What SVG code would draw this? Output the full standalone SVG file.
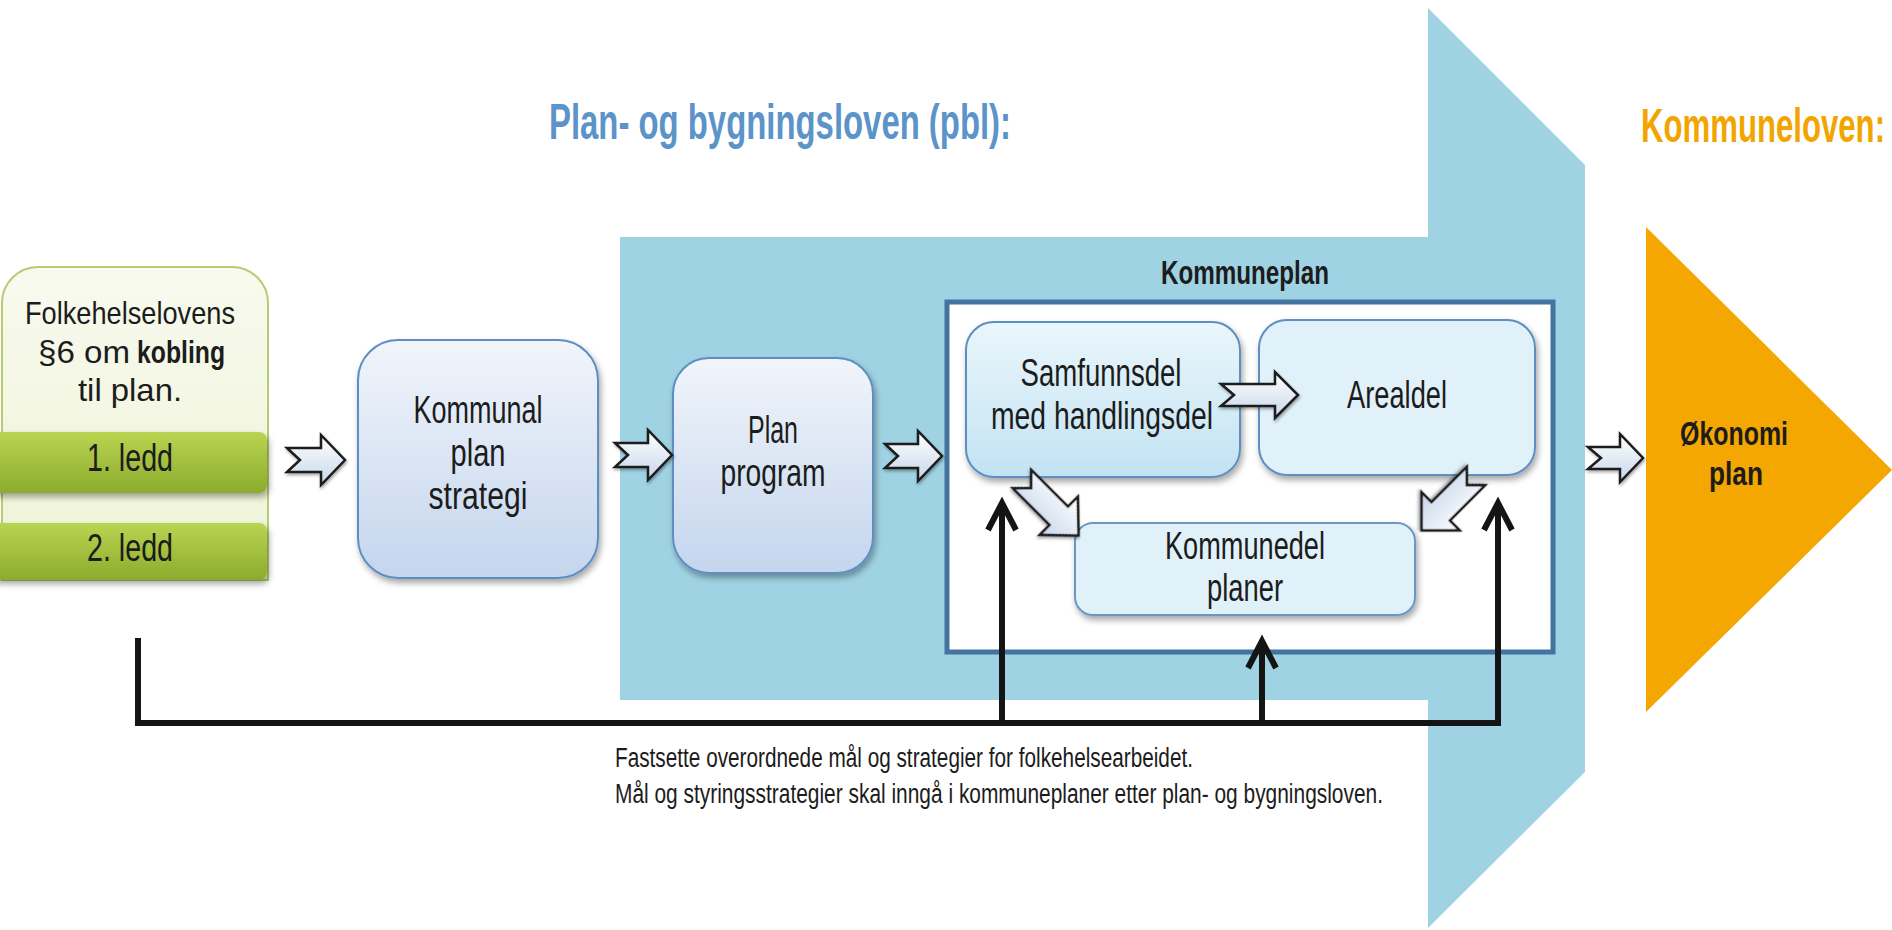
<svg xmlns="http://www.w3.org/2000/svg" width="1892" height="930" viewBox="0 0 1892 930">
<style>
.t{font-family:"Liberation Sans",Arial,sans-serif;fill:#1c1c1c;text-anchor:middle}
.s{text-anchor:start}
.n{font-size:38px}
.f{font-size:32px}
.b{font-weight:bold}
.blk{fill:none;stroke:#141414;stroke-width:6;stroke-linejoin:miter}
.ba{fill:url(#ga);stroke:#1a1a1a;stroke-width:2.5;stroke-linejoin:miter;filter:url(#sh2)}
</style>
<defs>
<linearGradient id="gb" x1="0" y1="0" x2="0" y2="1"><stop offset="0" stop-color="#f1f5fb"/><stop offset="1" stop-color="#c4d5ed"/></linearGradient>
<linearGradient id="gc" x1="0" y1="0" x2="0" y2="1"><stop offset="0" stop-color="#eaf6fb"/><stop offset="1" stop-color="#c2e3f3"/></linearGradient>
<linearGradient id="gcream" x1="0" y1="0" x2="0" y2="1"><stop offset="0" stop-color="#f8faee"/><stop offset="1" stop-color="#edf3d6"/></linearGradient>
<linearGradient id="gg" x1="0" y1="0" x2="0" y2="1"><stop offset="0" stop-color="#b9d451"/><stop offset="1" stop-color="#8cab2c"/></linearGradient>
<linearGradient id="ga" x1="0" y1="0" x2="0" y2="1"><stop offset="0" stop-color="#ffffff"/><stop offset="1" stop-color="#c7d7ea"/></linearGradient>
<filter id="sh" x="-10%" y="-10%" width="130%" height="130%"><feDropShadow dx="2" dy="4" stdDeviation="3" flood-color="#000" flood-opacity="0.35"/></filter>
<filter id="sh2" x="-20%" y="-20%" width="150%" height="150%"><feDropShadow dx="1" dy="2" stdDeviation="1.5" flood-color="#000" flood-opacity="0.35"/></filter>
</defs>

<!-- background shapes -->
<path d="M620,237 H1428 V8 L1585,165 V772 L1428,928 V700 H620 Z" fill="#9fd3e4"/>
<polygon points="1646,227 1892,470 1646,712" fill="#f4a700"/>

<text class="t b" x="780" y="139" font-size="50" style="fill:#5b94c8" textLength="462" lengthAdjust="spacingAndGlyphs">Plan- og bygningsloven (pbl):</text>
<text class="t b s" transform="translate(1641,142) scale(0.649,1)" x="0" y="0" font-size="48" style="fill:#f2a500" textLength="376" lengthAdjust="spacingAndGlyphs">Kommuneloven:</text>

<!-- Kommuneplan frame -->
<g id="kommuneplan">
<rect x="947" y="302" width="606" height="350" fill="#ffffff" stroke="#44739f" stroke-width="5"/>
<text class="t b" x="1245" y="284" font-size="33" textLength="168" lengthAdjust="spacingAndGlyphs">Kommuneplan</text>
</g>

<g id="folkehelse">
<path d="M2,580 V303 A36,36 0 0 1 38,267 H232 A36,36 0 0 1 268,303 V580 Z" fill="url(#gcream)" stroke="#b5cd72" stroke-width="2"/>
<rect x="-10" y="432" width="277" height="61" rx="8" fill="url(#gg)" filter="url(#sh)"/>
<rect x="-10" y="523" width="277" height="57" rx="8" fill="url(#gg)" filter="url(#sh)"/>
<text class="t f" x="130" y="324" textLength="210" lengthAdjust="spacingAndGlyphs">Folkehelselovens</text>
<text class="t f s" x="38" y="363" textLength="92" lengthAdjust="spacingAndGlyphs">§6 om</text>
<text class="t f s b" x="137" y="363" textLength="88" lengthAdjust="spacingAndGlyphs">kobling</text>
<text class="t f" x="130" y="401" textLength="104" lengthAdjust="spacingAndGlyphs">til plan.</text>
<text class="t n" x="130" y="471" textLength="86" lengthAdjust="spacingAndGlyphs">1. ledd</text>
<text class="t n" x="130" y="561" textLength="86" lengthAdjust="spacingAndGlyphs">2. ledd</text>
</g>

<g id="kommunalplanstrategi">
<rect x="358" y="340" width="240" height="238" rx="40" fill="url(#gb)" stroke="#5f8fc2" stroke-width="2" filter="url(#sh)"/>
<text class="t n" x="478" y="423" textLength="129" lengthAdjust="spacingAndGlyphs">Kommunal</text>
<text class="t n" x="478" y="466" textLength="55" lengthAdjust="spacingAndGlyphs">plan</text>
<text class="t n" x="478" y="509" textLength="99" lengthAdjust="spacingAndGlyphs">strategi</text>
</g>

<g id="planprogram">
<rect x="673" y="358" width="200" height="215" rx="36" fill="url(#gb)" stroke="#5f8fc2" stroke-width="2" filter="url(#sh)"/>
<text class="t n" x="773" y="443" textLength="50" lengthAdjust="spacingAndGlyphs">Plan</text>
<text class="t n" x="773" y="486" textLength="105" lengthAdjust="spacingAndGlyphs">program</text>
</g>

<g id="samfunnsdel">
<rect x="966" y="322" width="274" height="155" rx="28" fill="url(#gc)" stroke="#5f8fc2" stroke-width="2" filter="url(#sh)"/>
<text class="t n" x="1101" y="386" textLength="161" lengthAdjust="spacingAndGlyphs">Samfunnsdel</text>
<text class="t n" x="1102" y="429" textLength="222" lengthAdjust="spacingAndGlyphs">med handlingsdel</text>
</g>

<g id="arealdel">
<rect x="1259" y="320" width="276" height="155" rx="28" fill="#e1f1f9" stroke="#5f8fc2" stroke-width="2" filter="url(#sh)"/>
<text class="t n" x="1397" y="408" textLength="100" lengthAdjust="spacingAndGlyphs">Arealdel</text>
</g>

<g id="kommunedelplaner">
<rect x="1075" y="523" width="340" height="92" rx="18" fill="#e0f1f9" stroke="#6a98c5" stroke-width="2" filter="url(#sh)"/>
<text class="t n" x="1245" y="559" textLength="160" lengthAdjust="spacingAndGlyphs">Kommunedel</text>
<text class="t n" x="1245" y="601" textLength="76" lengthAdjust="spacingAndGlyphs">planer</text>
</g>

<g id="okonomiplan">
<text class="t b" x="1734" y="445" font-size="33" textLength="108" lengthAdjust="spacingAndGlyphs">Økonomi</text>
<text class="t b" x="1736" y="485" font-size="33" textLength="54" lengthAdjust="spacingAndGlyphs">plan</text>
</g>

<g id="connectors">
<path class="ba" transform="translate(287,460)" d="M0,-12 H34 V-25 L58,0 L34,25 V12 H0 L13,0 Z"/>
<path class="ba" transform="translate(615,455)" d="M0,-12 H33 V-25 L57,0 L33,25 V12 H0 L13,0 Z"/>
<path class="ba" transform="translate(885,456)" d="M0,-12 H33 V-25 L57,0 L33,25 V12 H0 L13,0 Z"/>
<path class="ba" transform="translate(1221,395)" d="M0,-11 H54 V-23 L77,0 L54,23 V11 H0 L13,0 Z"/>
<path class="ba" transform="translate(1588,458)" d="M0,-11 H32 V-24 L55,0 L32,24 V11 H0 L13,0 Z"/>
<path class="ba" transform="translate(1022,479) rotate(45)" d="M0,-13 H52 V-27 L80,0 L52,27 V13 H0 L13,0 Z"/>
<path class="ba" transform="translate(1476,476) rotate(135)" d="M0,-13 H50 V-27 L77,0 L50,27 V13 H0 L13,0 Z"/>
<path class="blk" d="M138,638 V723 H1498 V506"/>
<path class="blk" d="M1002,723 V506"/>
<path class="blk" d="M1262,723 V644"/>
<polyline class="blk" points="988,530 1002,503 1016,530"/>
<polyline class="blk" points="1484,530 1498,503 1512,530"/>
<polyline class="blk" points="1248,668 1262,641 1276,668"/>
</g>

<text class="t s" x="615" y="767" font-size="27" textLength="578" lengthAdjust="spacingAndGlyphs">Fastsette overordnede mål og strategier for folkehelsearbeidet.</text>
<text class="t s" x="615" y="803" font-size="27" textLength="768" lengthAdjust="spacingAndGlyphs">Mål og styringsstrategier skal inngå i kommuneplaner etter plan- og bygningsloven.</text>
</svg>
